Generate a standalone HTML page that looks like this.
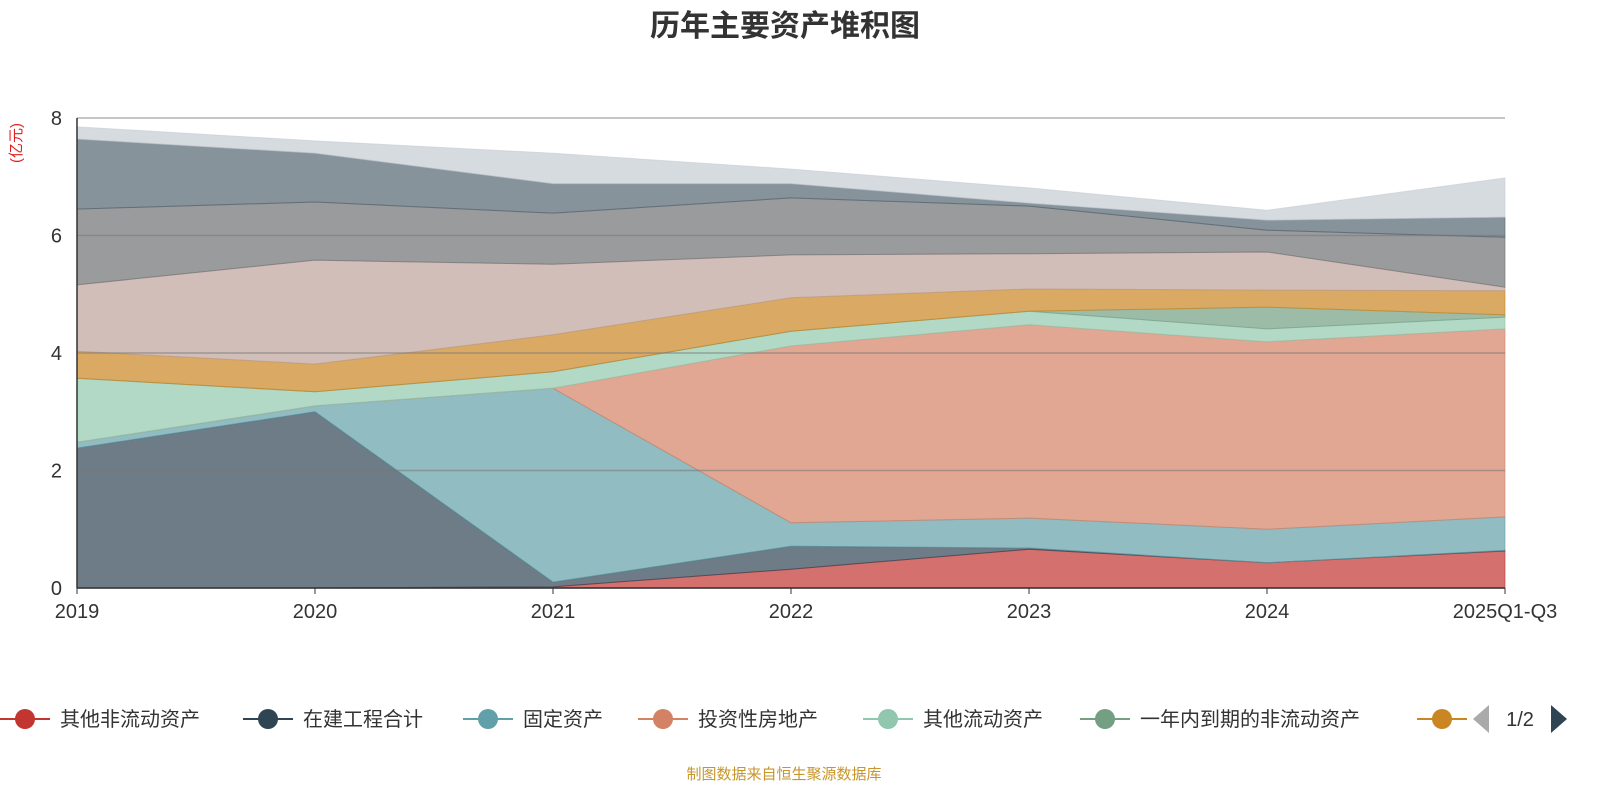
<!DOCTYPE html>
<html><head><meta charset="utf-8">
<style>
body{margin:0;background:#fff;width:1600px;height:800px;overflow:hidden;font-family:"Liberation Sans","Noto Sans CJK SC",sans-serif}
</style></head>
<body>
<svg id="chart" width="1600" height="800" xmlns="http://www.w3.org/2000/svg">
<text x="785" y="36" text-anchor="middle" font-size="30" font-weight="bold" fill="#333" font-family="Liberation Sans, Noto Sans CJK SC, sans-serif">历年主要资产堆积图</text>
<text transform="translate(21,143) rotate(-90)" text-anchor="middle" font-size="15" fill="#e02020" font-family="Liberation Sans, Noto Sans CJK SC, sans-serif">(亿元)</text>
<g id="grid"></g><g id="areas"></g><g id="axes"></g><g id="legend"></g>
<text x="784" y="779" text-anchor="middle" font-size="15" fill="#c8952a" font-family="Liberation Sans, Noto Sans CJK SC, sans-serif">制图数据来自恒生聚源数据库</text>
</svg>
<script>
const categories=["2019","2020","2021","2022","2023","2024","2025Q1-Q3"];
const yTicks=[0,2,4,6,8];
const seriesNames=["其他非流动资产","在建工程合计","固定资产","投资性房地产","其他流动资产","一年内到期的非流动资产","货币资金","应收账款","存货","长期股权投资","其他"];
const sRed=[0,0,0.02,0.32,0.66,0.43,0.63];
const sNavy=[2.38,3.0,0.08,0.39,0.02,0,0.01];
const sTeal=[0.10,0.10,3.30,0.40,0.51,0.57,0.57];
const sInvest=[0,0,0,3.01,3.29,3.19,3.20];
const sOtherCur=[1.09,0.24,0.28,0.25,0.23,0.22,0.20];
const sOneYear=[0,0,0,0,0,0.37,0.04];
const sGold=[0.46,0.47,0.63,0.57,0.38,0.29,0.41];
const sBeige=[1.13,1.77,1.20,0.73,0.60,0.65,0.06];
const sGray=[1.29,0.99,0.87,0.97,0.81,0.37,0.85];
const sDark=[1.19,0.83,0.50,0.24,0.05,0.17,0.34];
const sLight=[0.21,0.21,0.52,0.25,0.26,0.17,0.67];
const series=[sRed,sNavy,sTeal,sInvest,sOtherCur,sOneYear,sGold,sBeige,sGray,sDark,sLight];
const colors=["#c23531","#2f4554","#61a0a8","#d48265","#91c7ae","#749f83","#ca8622","#bda29a","#6e7074","#546570","#c4ccd3"];
const NS="http://www.w3.org/2000/svg";
const x=i=>77+i*(1505-77)/(categories.length-1);
const y=v=>588-v*(588-118)/8;
function mk(tag,at,parent){const e=document.createElementNS(NS,tag);for(const k in at)e.setAttribute(k,at[k]);parent.appendChild(e);return e;}
const grid=document.getElementById('grid'),areas=document.getElementById('areas'),axes=document.getElementById('axes'),legend=document.getElementById('legend');
let base=categories.map(()=>0);
series.forEach((s,si)=>{
  const top=base.map((b,i)=>b+s[i]);
  let d="M"+top.map((v,i)=>x(i)+","+y(v)).join("L");
  for(let i=categories.length-1;i>=0;i--)d+="L"+x(i)+","+y(base[i]);
  const p=mk('path',{d:d+"Z",fill:colors[si],'fill-opacity':0.7,stroke:colors[si],'stroke-width':1,'stroke-opacity':0.6},areas);
  
  
  base=top;
});
yTicks.forEach(t=>{
  const l=mk('line',{x1:77,x2:1505,y1:y(t),y2:y(t),stroke:"#777",'stroke-opacity':0.55,'stroke-width':1.5},areas);
  
  
  const tx=mk('text',{x:62,y:y(t)+7,'text-anchor':'end','font-size':20,fill:'#333'},axes);
  tx.textContent=t;
  
  
});
const ax=mk('line',{x1:77,x2:1505,y1:588,y2:588,stroke:"#333",'stroke-width':1.5},axes);


const ay=mk('line',{x1:77,x2:77,y1:118,y2:588,stroke:"#333",'stroke-width':1.5},axes);


categories.forEach((c,i)=>{
  const tk=mk('line',{x1:x(i),x2:x(i),y1:588,y2:594,stroke:'#333'},axes);
  
  
  const t=mk('text',{x:x(i),y:618,'text-anchor':'middle','font-size':20,fill:'#333'},axes);
  t.textContent=c;
  
  
});
const lx=[25,268,488,663,888,1105,1442];
lx.forEach((cx,i)=>{
  const g=mk('g',{},legend);
  
  
  mk('line',{x1:cx-25,x2:cx+25,y1:719,y2:719,stroke:colors[i],'stroke-width':2},g);
  mk('circle',{cx:cx,cy:719,r:10,fill:colors[i]},g);
  if(i<6){const t=mk('text',{x:cx+35,y:726,'font-size':20,fill:'#333','font-family':'Liberation Sans, Noto Sans CJK SC, sans-serif'},g);t.textContent=seriesNames[i];}
});
const pl=mk('path',{d:"M1473,719L1489,705L1489,733Z",fill:"#aaa"},legend);


const pt=mk('text',{x:1520,y:726,'text-anchor':'middle','font-size':20,fill:'#333'},legend);
pt.textContent="1/2";


const pn=mk('path',{d:"M1551,705L1567,719L1551,733Z",fill:"#2f4554"},legend);


</script>
</body></html>
